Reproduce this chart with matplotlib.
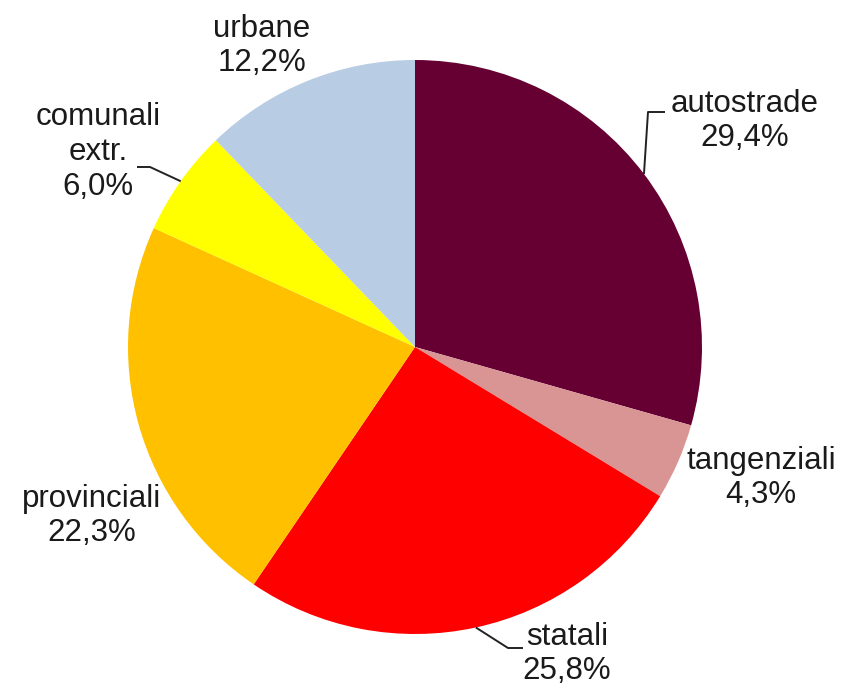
import numpy as np
import matplotlib.pyplot as plt

labels = ["autostrade", "tangenziali", "statali", "provinciali", "comunali\nextr.", "urbane"]
shares = [29.4, 4.3, 25.8, 22.3, 6.0, 12.2]
colors = ["#660033", "#D99594", "#FF0000", "#FFC000", "#FFFF00", "#B8CCE4"]

# label block centres (pixel coords, y up) and leader elbows
label_pos = [(745, 570), (761, 213), (567, 37), (92, 175), (98, 539), (262, 645)]
leaders = {0: [(648, 579), (665, 579)],
           2: [(508, 43), (523, 43)],
           4: [(150, 524), (137, 524)]}

plt.rcParams['font.family'] = ['Liberation Sans', 'DejaVu Sans']

fig = plt.figure(figsize=(8.43, 6.91), dpi=100)
ax = fig.add_axes([0, 0, 1, 1])
cx, cy, r = 415, 344, 287
wedges, _ = ax.pie(shares, colors=colors, startangle=90, counterclock=False,
                   center=(cx, cy), radius=r, frame=True,
                   wedgeprops=dict(linewidth=0))
ax.set_xlim(0, 843)
ax.set_ylim(0, 691)
ax.axis('off')

for i, (lab, val) in enumerate(zip(labels, shares)):
    txt = lab + "\n" + f"{val:.1f}".replace(".", ",") + "%"
    x, y = label_pos[i]
    ax.text(x, y, txt, ha='center', va='center', fontsize=22.5,
            color='#1a1a1a', linespacing=1.2)
    if i in leaders:
        w = wedges[i]
        mid = np.deg2rad((w.theta1 + w.theta2) / 2)
        pts = [(cx + r * np.cos(mid), cy + r * np.sin(mid))] + leaders[i]
        xs, ys = zip(*pts)
        ax.plot(xs, ys, color='#222222', lw=1.4, solid_capstyle='butt')

fig.savefig("out.png", dpi=100)
